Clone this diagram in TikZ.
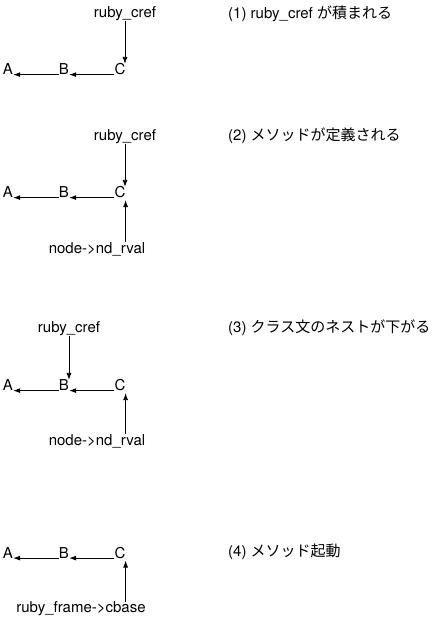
\documentclass[tikz,border=0pt]{standalone}
\usepackage{fontspec}
\setmainfont{TeX Gyre Heros}
\newfontfamily\cjk{Noto Sans CJK JP}
\usetikzlibrary{arrows.meta}

\begin{document}
\begin{tikzpicture}[x=1pt,y=-1pt,
  every node/.style={font=\fontsize{15}{18}\selectfont,inner sep=0pt},
  letter/.style={text height=10.8pt,text depth=0pt},
  arr/.style={-{Latex[length=7pt,width=5pt]},line width=0.8pt}]
\useasboundingbox (0,0) rectangle (442,622);
% (1)
\node (rc1) at (125,14) {ruby\_cref};
\node[letter] (A1) at (8,69.5) {A};
\node[letter] (B1) at (64,69.5) {B};
\node[letter] (C1) at (120,69.5) {C};
\draw[arr] (rc1.south) -- (rc1.south |- C1.north);
\draw[arr] ([yshift=0.5pt]C1.south west) -- ([yshift=0.5pt]B1.south east);
\draw[arr] ([yshift=0.5pt]B1.south west) -- ([yshift=0.5pt]A1.south east);
\node[anchor=west] (lab1) at (228,14) {(1) ruby\_cref {\cjk が積まれる}};
% (2)
\node (rc2) at (125,137) {ruby\_cref};
\node[letter] (A2) at (8,192.5) {A};
\node[letter] (B2) at (64,192.5) {B};
\node[letter] (C2) at (120,192.5) {C};
\node (nd2) at (97,249) {node->nd\_rval};
\draw[arr] (rc2.south) -- (rc2.south |- C2.north);
\draw[arr] ([yshift=0.5pt]C2.south west) -- ([yshift=0.5pt]B2.south east);
\draw[arr] ([yshift=0.5pt]B2.south west) -- ([yshift=0.5pt]A2.south east);
\draw[arr] (nd2.north -| C2.east) -- ([yshift=-2pt]C2.south east);
\node[anchor=west] (lab2) at (228,136) {(2) {\cjk メソッドが定義される}};
% (3)
\node (rc3) at (69,329) {ruby\_cref};
\node[letter] (A3) at (8,385.5) {A};
\node[letter] (B3) at (64,385.5) {B};
\node[letter] (C3) at (120,385.5) {C};
\node (nd3) at (97,441) {node->nd\_rval};
\draw[arr] (rc3.south) -- (rc3.south |- B3.north);
\draw[arr] ([yshift=0.5pt]C3.south west) -- ([yshift=0.5pt]B3.south east);
\draw[arr] ([yshift=0.5pt]B3.south west) -- ([yshift=0.5pt]A3.south east);
\draw[arr] (nd3.north -| C3.east) -- ([yshift=-2pt]C3.south east);
\node[anchor=west] (lab3) at (228,328) {(3) {\cjk クラス文のネストが下がる}};
% (4)
\node[letter] (A4) at (8,553) {A};
\node[letter] (B4) at (64,553) {B};
\node[letter] (C4) at (120,553) {C};
\node (rf4) at (81,609) {ruby\_frame->cbase};
\draw[arr] ([yshift=0.5pt]C4.south west) -- ([yshift=0.5pt]B4.south east);
\draw[arr] ([yshift=0.5pt]B4.south west) -- ([yshift=0.5pt]A4.south east);
\draw[arr] (rf4.north -| C4.east) -- ([yshift=-2pt]C4.south east);
\node[anchor=west] (lab4) at (228,552) {(4) {\cjk メソッド起動}};
\end{tikzpicture}
\end{document}
